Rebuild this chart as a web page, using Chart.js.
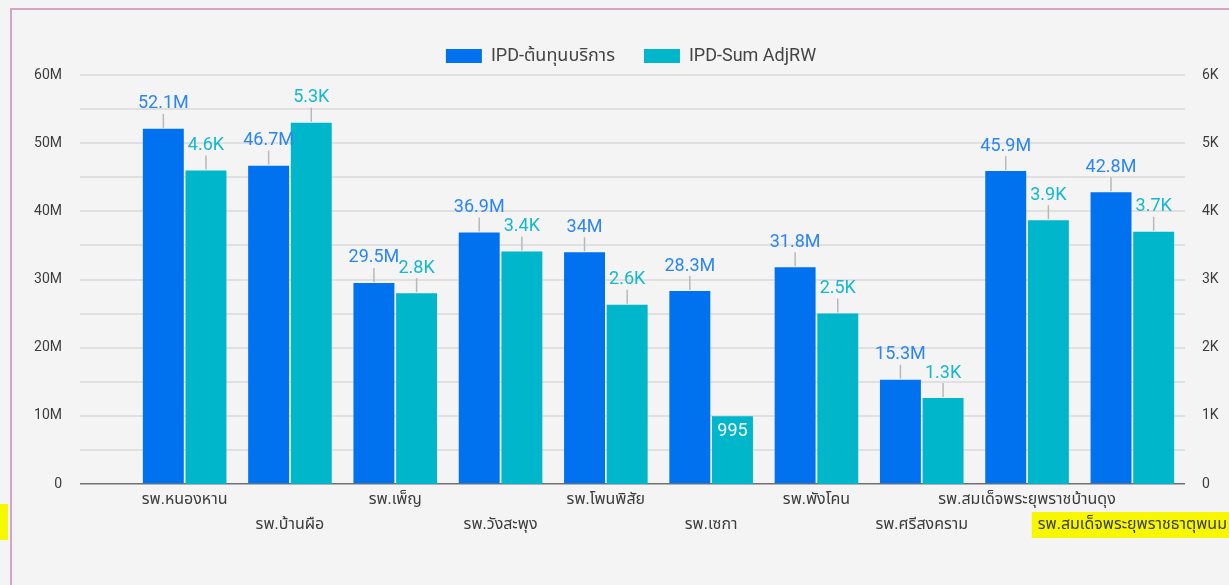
<!DOCTYPE html>
<html>
<head>
<meta charset="utf-8">
<script src="https://cdn.jsdelivr.net/npm/chart.js@4"></script>
<style>
  html, body { margin: 0; padding: 0; background: #f4f4f4; overflow: hidden; }
  #wrap { position: relative; width: 1229px; height: 585px; }
  #card { position: absolute; left: 10px; top: 8px; width: 1400px; height: 800px; border: 2px solid #d5a3c3; }
  #mark { position: absolute; left: 0; top: 504px; width: 8px; height: 36px; background: #f7f700; }
  #chart { position: absolute; left: 0; top: 0; }
</style>
</head>
<body>
<div id="wrap">
  <div id="card"></div>
  <div id="mark"></div>
  <canvas id="chart" width="1229" height="585"></canvas>
</div>
<script>
// hospitals (x axis)
const categories = [
  'รพ.หนองหาน', 'รพ.บ้านผือ', 'รพ.เพ็ญ', 'รพ.วังสะพุง', 'รพ.โพนพิสัย',
  'รพ.เซกา', 'รพ.พังโคน', 'รพ.ศรีสงคราม', 'รพ.สมเด็จพระยุพราชบ้านดุง', 'รพ.สมเด็จพระยุพราชธาตุพนม'
];

// IPD cost (left axis)
const costValues = [52.1e6, 46.7e6, 29.5e6, 36.9e6, 34.0e6, 28.3e6, 31.8e6, 15.3e6, 45.9e6, 42.8e6];
// IPD sum AdjRW (right axis)
const adjrwValues = [4600, 5300, 2800, 3410, 2630, 995, 2500, 1260, 3870, 3700];

const seriesNames = ['IPD-ต้นทุนบริการ', 'IPD-Sum AdjRW'];
const highlightIndex = 9;

const colors = {
  blue: '#0072f0',
  cyan: '#00b6cb',
  blueText: '#2a86f2',
  cyanText: '#16b8cc',
  grid: '#e0e0e0',
  zero: '#707070',
  text: '#3c3c3c'
};

const thaiFont = "Roboto, 'Noto Sans Thai', 'Noto Sans', sans-serif";

function fmtM(v) {
  const s = (v / 1e6).toFixed(1).replace(/\.0$/, '');
  return s + 'M';
}

function fmtK(v) {
  if (v < 1000) return String(v);
  return (v / 1000).toFixed(1).replace(/\.0$/, '') + 'K';
}

// labels above bars with a short leader line
const valueLabels = {
  id: 'valueLabels',
  afterDatasetsDraw(chart) {
    const ctx = chart.ctx;
    ctx.save();
    ctx.font = "18px " + thaiFont;
    ctx.textAlign = 'center';
    chart.data.datasets.forEach((ds, di) => {
      const meta = chart.getDatasetMeta(di);
      meta.data.forEach((bar, i) => {
        const v = ds.data[i];
        const text = di === 0 ? fmtM(v) : fmtK(v);
        if (v < 1000) {
          ctx.fillStyle = '#ffffff';
          ctx.textBaseline = 'top';
          ctx.fillText(text, bar.x, bar.y + 6);
          return;
        }
        ctx.strokeStyle = '#b8b8b8';
        ctx.lineWidth = 1.5;
        ctx.beginPath();
        ctx.moveTo(bar.x, bar.y - 1);
        ctx.lineTo(bar.x, bar.y - 15);
        ctx.stroke();
        ctx.fillStyle = di === 0 ? colors.blueText : colors.cyanText;
        ctx.textBaseline = 'bottom';
        ctx.fillText(text, bar.x, bar.y - 16);
      });
    });
    ctx.restore();
  }
};

// yellow highlight behind one category label
const labelHighlight = {
  id: 'labelHighlight',
  beforeDraw(chart) {
    const x = chart.scales.x;
    const ctx = chart.ctx;
    ctx.save();
    ctx.font = "16px " + thaiFont;
    const w = ctx.measureText(categories[highlightIndex]).width;
    const cx = x.getPixelForTick(highlightIndex);
    ctx.fillStyle = '#f7f700';
    ctx.fillRect(cx - w / 2 - 6, x.top + 28, w + 12, 26);
    ctx.restore();
  }
};

new Chart(document.getElementById('chart'), {
  type: 'bar',
  data: {
    labels: categories,
    datasets: [
      {
        label: seriesNames[0],
        data: costValues,
        backgroundColor: colors.blue,
        yAxisID: 'y',
        categoryPercentage: 0.81,
        barPercentage: 0.96
      },
      {
        label: seriesNames[1],
        data: adjrwValues,
        backgroundColor: colors.cyan,
        yAxisID: 'y1',
        categoryPercentage: 0.81,
        barPercentage: 0.96
      }
    ]
  },
  options: {
    responsive: false,
    animation: false,
    layout: { padding: { top: 10, left: 33, right: 0, bottom: 0 } },
    plugins: {
      legend: {
        display: true,
        position: 'top',
        labels: {
          boxWidth: 36,
          boxHeight: 14,
          padding: 29,
          color: '#444',
          font: { size: 18, family: thaiFont }
        }
      },
      tooltip: { enabled: false }
    },
    scales: {
      x: {
        grid: { display: false },
        border: { display: false },
        ticks: {
          autoSkip: false,
          maxRotation: 0,
          padding: -5,
          color: colors.text,
          font: { size: 16, family: thaiFont, lineHeight: '25px' },
          callback: (val, i) => i % 2 === 0 ? categories[i] : ['', categories[i]]
        },
        afterFit: (scale) => {
          scale.paddingLeft = 0;
          scale.paddingRight = 0;
          scale.height = 101;
        }
      },
      y: {
        position: 'left',
        min: 0,
        max: 60e6,
        border: { display: false },
        grid: {
          color: (c) => c.tick && c.tick.value === 0 ? colors.zero : colors.grid,
          lineWidth: (c) => c.tick && c.tick.value === 0 ? 1.5 : 2,
          tickLength: 52
        },
        ticks: {
          stepSize: 5e6,
          padding: 18,
          color: colors.text,
          font: { size: 14, family: thaiFont },
          callback: (v) => v % 10e6 === 0 ? (v === 0 ? '0' : v / 1e6 + 'M') : ''
        },
        afterFit: (scale) => {
          scale.width = 99;
          // keep plot top under the legend
          scale.paddingTop = 75;
        }
      },
      y1: {
        position: 'right',
        min: 0,
        max: 6000,
        border: { display: false },
        grid: { display: false, drawTicks: false },
        ticks: {
          stepSize: 1000,
          padding: 17,
          color: colors.text,
          font: { size: 14, family: thaiFont },
          callback: (v) => v === 0 ? '0' : v / 1000 + 'K'
        },
        afterFit: (scale) => { scale.width = 44; }
      }
    }
  },
  plugins: [labelHighlight, valueLabels]
});
</script>
</body>
</html>
